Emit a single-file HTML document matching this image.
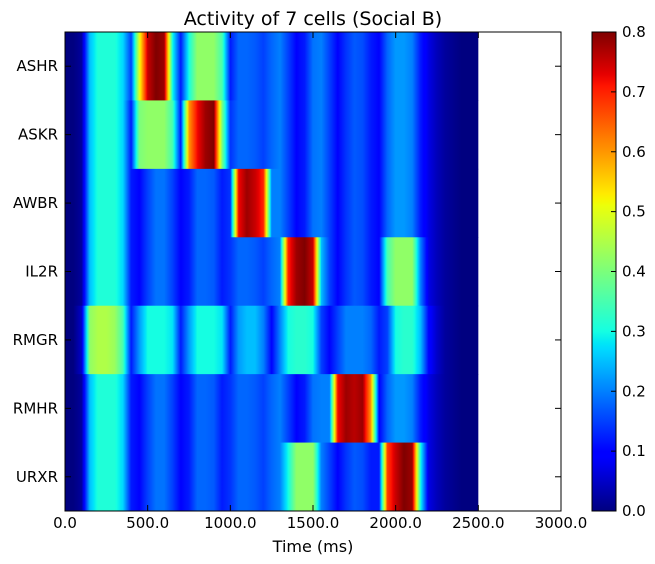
<!DOCTYPE html>
<html><head><meta charset="utf-8">
<style>
html,body{margin:0;padding:0;background:#fff;}
svg{display:block;font-family:"DejaVu Sans","Liberation Sans",sans-serif;}
</style></head>
<body>
<svg id="chart" width="655" height="564" viewBox="0 0 655 564">
<defs id="defs"></defs>
<text x="313" y="25" font-size="19" text-anchor="middle">Activity of 7 cells (Social B)</text>
<g id="rows"></g>
<g id="axes"></g>
<text x="313" y="552" font-size="16" text-anchor="middle">Time (ms)</text>
<g id="cbar"></g>
</svg>
<script>
const cells = ["ASHR","ASKR","AWBR","IL2R","RMGR","RMHR","URXR"];
const timeStepMs = 50;
const xTicks = [0,500,1000,1500,2000,2500,3000];
const xTickLabels = ["0.0","500.0","1000.0","1500.0","2000.0","2500.0","3000.0"];
const cbTicks = [0,0.1,0.2,0.3,0.4,0.5,0.6,0.7,0.8];
const cbTickLabels = ["0.0","0.1","0.2","0.3","0.4","0.5","0.6","0.7","0.8"];
const rowASHR = [0,0,0.02,0.25,0.31,0.31,0.31,0.27,0.15,0.5,0.75,0.8,0.78,0.3,0.12,0.3,0.42,0.42,0.42,0.35,0.12,0.18,0.18,0.17,0.15,0.18,0.2,0.15,0.1,0.12,0.19,0.2,0.15,0.1,0.14,0.17,0.16,0.12,0.1,0.18,0.22,0.22,0.2,0.12,0.07,0.04,0.02,0.01,0,0,0];
const rowASKR = [0,0,0.02,0.25,0.31,0.31,0.31,0.27,0.12,0.4,0.42,0.42,0.42,0.35,0.12,0.6,0.72,0.78,0.8,0.4,0.14,0.18,0.18,0.17,0.15,0.18,0.2,0.15,0.1,0.12,0.19,0.2,0.15,0.1,0.14,0.17,0.16,0.12,0.1,0.18,0.22,0.22,0.2,0.12,0.07,0.04,0.02,0.01,0,0,0];
const rowAWBR = [0,0,0.02,0.25,0.31,0.31,0.31,0.27,0.12,0.1,0.15,0.19,0.19,0.15,0.1,0.12,0.18,0.18,0.17,0.12,0.14,0.72,0.78,0.75,0.7,0.2,0.2,0.15,0.1,0.12,0.19,0.2,0.15,0.1,0.14,0.17,0.16,0.12,0.1,0.18,0.22,0.22,0.2,0.12,0.07,0.04,0.02,0.01,0,0,0];
const rowIL2R = [0,0,0.02,0.25,0.31,0.31,0.31,0.27,0.12,0.1,0.15,0.19,0.19,0.15,0.1,0.12,0.18,0.18,0.17,0.12,0.14,0.18,0.18,0.17,0.15,0.18,0.2,0.7,0.78,0.8,0.75,0.25,0.15,0.1,0.14,0.17,0.16,0.12,0.1,0.35,0.42,0.42,0.42,0.2,0.07,0.04,0.02,0.01,0,0,0];
const rowRMGR = [0,0,0.05,0.42,0.45,0.45,0.43,0.35,0.12,0.22,0.3,0.3,0.3,0.28,0.12,0.22,0.3,0.3,0.3,0.28,0.12,0.22,0.25,0.25,0.2,0.1,0.2,0.3,0.32,0.32,0.3,0.15,0.1,0.15,0.2,0.2,0.2,0.18,0.12,0.15,0.3,0.32,0.32,0.25,0.1,0.05,0.02,0.01,0,0,0];
const rowRMHR = [0,0,0.02,0.25,0.31,0.31,0.31,0.27,0.12,0.1,0.15,0.19,0.19,0.15,0.1,0.12,0.18,0.18,0.17,0.12,0.14,0.18,0.18,0.17,0.15,0.18,0.2,0.15,0.1,0.12,0.19,0.2,0.2,0.72,0.78,0.76,0.78,0.6,0.1,0.18,0.22,0.22,0.2,0.12,0.07,0.04,0.02,0.01,0,0,0];
const rowURXR = [0,0,0.02,0.25,0.31,0.31,0.31,0.27,0.12,0.1,0.15,0.19,0.19,0.15,0.1,0.12,0.18,0.18,0.17,0.12,0.14,0.18,0.18,0.17,0.15,0.18,0.2,0.3,0.42,0.42,0.42,0.2,0.15,0.1,0.14,0.17,0.16,0.12,0.12,0.68,0.75,0.8,0.78,0.3,0.07,0.04,0.02,0.01,0,0,0];
const rows = [rowASHR,rowASKR,rowAWBR,rowIL2R,rowRMGR,rowRMHR,rowURXR];

const NS="http://www.w3.org/2000/svg";
const L=65,R=561,T=32,B=511,XMAX=3000,VMAX=0.8;
const xs=t=>L+(R-L)*t/XMAX;
const rowH=(B-T)/cells.length;
const ys=i=>T+i*rowH;
function interp(pts,v){for(let i=1;i<pts.length;i++){if(v<=pts[i][0]){const a=pts[i-1],b=pts[i];return a[1]+(b[1]-a[1])*(v-a[0])/(b[0]-a[0]);}}return pts[pts.length-1][1];}
function jet(v){let x=Math.max(0,Math.min(1,v/VMAX));
const r=interp([[0,0],[0.35,0],[0.66,1],[0.89,1],[1,0.5]],x);
const g=interp([[0,0],[0.125,0],[0.375,1],[0.64,1],[0.91,0],[1,0]],x);
const b=interp([[0,0.5],[0.11,1],[0.34,1],[0.65,0],[1,0]],x);
return `rgb(${Math.round(r*255)},${Math.round(g*255)},${Math.round(b*255)})`;}
function el(tag,attrs,parent){const e=document.createElementNS(NS,tag);for(const k in attrs)e.setAttribute(k,attrs[k]);parent.appendChild(e);return e;}
const defs=document.getElementById('defs'),gRows=document.getElementById('rows'),gAx=document.getElementById('axes'),gCb=document.getElementById('cbar');
const SUB=8;
rows.forEach((vals,i)=>{
  const tEnd=(vals.length-1)*timeStepMs;
  const gr=el('linearGradient',{id:'g'+i,x1:'0',x2:'1',y1:'0',y2:'0'},defs);
  const n=vals.length-1;
  for(let j=0;j<n;j++){
    for(let s=0;s<SUB;s++){
      const f=s/SUB;
      const v=vals[j]+(vals[j+1]-vals[j])*f;
      el('stop',{offset:((j+f)/n).toFixed(5),'stop-color':jet(v)},gr);
    }
  }
  el('stop',{offset:'1','stop-color':jet(vals[n])},gr);
  const r=el('rect',{x:xs(0),y:ys(i),width:xs(tEnd)-xs(0),height:rowH+0.5,fill:'url(#g'+i+')'},gRows);
  
  
});
el('rect',{x:L,y:T,width:R-L,height:B-T,fill:'none',stroke:'#000','stroke-width':1},gAx);
xTicks.forEach((t,k)=>{
  el('line',{x1:xs(t),x2:xs(t),y1:B,y2:B-6,stroke:'#000'},gAx);
  el('line',{x1:xs(t),x2:xs(t),y1:T,y2:T+6,stroke:'#000'},gAx);
  const tx=el('text',{x:xs(t),y:B+17,'font-size':15,'text-anchor':'middle'},gAx);
  tx.textContent=xTickLabels[k];
  
  
});
cells.forEach((c,i)=>{
  const yc=ys(i)+rowH/2;
  el('line',{x1:L,x2:L+6,y1:yc,y2:yc,stroke:'#000'},gAx);
  el('line',{x1:R,x2:R-6,y1:yc,y2:yc,stroke:'#000'},gAx);
  const tx=el('text',{x:L-7,y:yc+5,'font-size':15,'text-anchor':'end'},gAx);
  tx.textContent=c;
  
  
});
const CL=592,CR=616,CT=32,CB=511;
const cg=el('linearGradient',{id:'cbg',x1:'0',x2:'0',y1:'1',y2:'0'},defs);
for(let k=0;k<=80;k++){el('stop',{offset:k/80,'stop-color':jet(VMAX*k/80)},cg);}
const cbRect=el('rect',{x:CL,y:CT,width:CR-CL,height:CB-CT,fill:'url(#cbg)',stroke:'#000'},gCb);


const cy=v=>CB-(CB-CT)*v/VMAX;
cbTicks.forEach((v,k)=>{
  el('line',{x1:CR,x2:CR-5,y1:cy(v),y2:cy(v),stroke:'#000'},gCb);
  const tx=el('text',{x:CR+6,y:cy(v)+5,'font-size':15},gCb);
  tx.textContent=cbTickLabels[k];
  
  
});
</script>
</body></html>
